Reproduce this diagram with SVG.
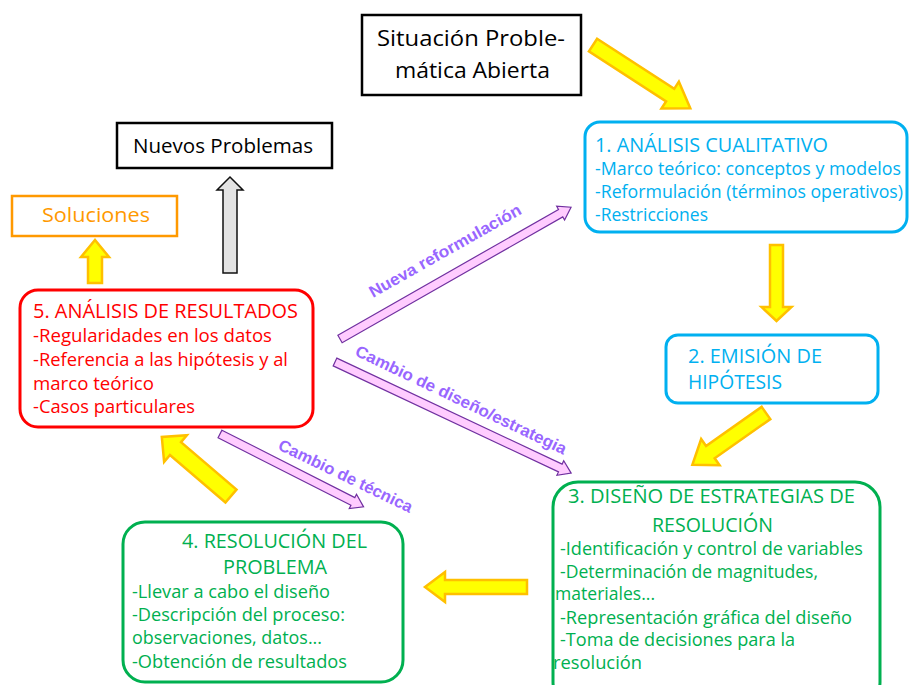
<svg xmlns="http://www.w3.org/2000/svg" width="910" height="685" viewBox="0 0 910 685">
<style>
text{font-family:"Open Sans","DejaVu Sans",sans-serif;font-size:18px}
.t{font-size:19.5px}
.sm{font-size:17.5px}
.blk{fill:#000}
.blue{fill:#00B0F0}
.red{fill:#FF0000}
.green{fill:#00B050}
.orange{fill:#FF9900}
.lbl{font-family:"Liberation Sans",Arial,sans-serif;font-weight:bold;font-size:16.5px;fill:#9966FF}
.ya{fill:#FFFF00;stroke:#FFC000;stroke-width:2.5;stroke-linejoin:miter}
.ga{fill:#E3E3E3;stroke:#111;stroke-width:1.5}
.pa{fill:#FFCCFF;stroke:#7030A0;stroke-width:1.2}
.box{fill:#fff;stroke-width:3}
</style>
<rect width="910" height="685" fill="#fff"/>
<g id="connectors">
<polygon class="ya" transform="translate(593,45) rotate(33)" points="0,-7.5 92,-7.5 92,-16 116,0 92,16 92,7.5 0,7.5"/>
<polygon class="ya" transform="translate(776.5,245) rotate(90)" points="0,-6.5 62,-6.5 62,-15 76,0 62,15 62,6.5 0,6.5"/>
<polygon class="ya" transform="translate(766,413) rotate(144.9)" points="0,-7.5 68,-7.5 68,-16 90,0 68,16 68,7.5 0,7.5"/>
<polygon class="ya" transform="translate(527,587) rotate(180)" points="0,-7 82,-7 82,-15 102,0 82,15 82,7 0,7"/>
<polygon class="ya" transform="translate(231,496) rotate(-139.5)" points="0,-8.5 73,-8.5 73,-17.5 91,0 73,17.5 73,8.5 0,8.5"/>
<polygon class="ya" transform="translate(95,283) rotate(-90)" points="0,-7 26,-7 26,-14 43,0 26,14 26,7 0,7"/>
<polygon class="ga" transform="translate(230,273) rotate(-90)" points="0,-7 83,-7 83,-13 96,0 83,13 83,7 0,7"/>
<polygon class="pa" transform="translate(340,339) rotate(-29.7)" points="0,-4.3 254,-4.3 254,-8 266,0 254,8 254,4.3 0,4.3"/>
<polygon class="pa" transform="translate(335,362) rotate(25.2)" points="0,-4.3 249,-4.3 249,-8 261,0 249,8 249,4.3 0,4.3"/>
<polygon class="pa" transform="translate(220,434) rotate(26.9)" points="0,-4.3 149,-4.3 149,-8 161,0 149,8 149,4.3 0,4.3"/>
<text class="lbl" transform="translate(373,298) rotate(-29.5)" textLength="172" lengthAdjust="spacingAndGlyphs">Nueva reformulación</text>
<text class="lbl" transform="translate(354,355) rotate(25.5)" textLength="232" lengthAdjust="spacingAndGlyphs">Cambio de diseño/estrategia</text>
<text class="lbl" transform="translate(277,449) rotate(25.8)" textLength="147" lengthAdjust="spacingAndGlyphs">Cambio de técnica</text>
</g>
<g id="situacion">
<rect x="362" y="15" width="219" height="80" fill="#fff" stroke="#000" stroke-width="2.5"/>
<text class="blk" x="377" y="46" style="font-size:22px" textLength="188" lengthAdjust="spacingAndGlyphs">Situación Proble-</text>
<text class="blk" x="395" y="78" style="font-size:22px" textLength="155" lengthAdjust="spacingAndGlyphs">mática Abierta</text>
</g>
<g id="nuevos">
<rect x="117" y="123" width="215" height="45" fill="#fff" stroke="#000" stroke-width="2.5"/>
<text class="blk" x="133" y="153" style="font-size:20px" textLength="180" lengthAdjust="spacingAndGlyphs">Nuevos Problemas</text>
</g>
<g id="soluciones">
<rect x="12" y="196" width="165" height="40" fill="#fff" stroke="#FF9900" stroke-width="2.5"/>
<text class="orange" x="42" y="222" style="font-size:20px" textLength="108" lengthAdjust="spacingAndGlyphs">Soluciones</text>
</g>
<g id="analisis-cualitativo">
<rect class="box" x="585" y="122" width="322" height="110" rx="15" stroke="#00B0F0"/>
<text class="blue t" x="595" y="152" textLength="233" lengthAdjust="spacingAndGlyphs">1. ANÁLISIS CUALITATIVO</text>
<text class="blue" x="595" y="175" textLength="306" lengthAdjust="spacingAndGlyphs">-Marco teórico: conceptos y modelos</text>
<text class="blue" x="595" y="198" textLength="308" lengthAdjust="spacingAndGlyphs">-Reformulación (términos operativos)</text>
<text class="blue" x="595" y="221" textLength="113" lengthAdjust="spacingAndGlyphs">-Restricciones</text>
</g>
<g id="emision-hipotesis">
<rect class="box" x="666" y="335" width="212" height="68" rx="12" stroke="#00B0F0"/>
<text class="blue t" x="688" y="363" textLength="134" lengthAdjust="spacingAndGlyphs">2. EMISIÓN DE</text>
<text class="blue t" x="688" y="389" textLength="94" lengthAdjust="spacingAndGlyphs">HIPÓTESIS</text>
</g>
<g id="diseno-estrategias">
<rect class="box" x="553" y="482" width="327" height="225" rx="25" stroke="#00B050"/>
<text class="green t" x="568" y="503" textLength="287" lengthAdjust="spacingAndGlyphs">3. DISEÑO DE ESTRATEGIAS DE</text>
<text class="green t" x="652" y="532" textLength="121" lengthAdjust="spacingAndGlyphs">RESOLUCIÓN</text>
<text class="green sm" x="560" y="555" textLength="303" lengthAdjust="spacingAndGlyphs">-Identificación y control de variables</text>
<text class="green sm" x="560" y="578" textLength="258" lengthAdjust="spacingAndGlyphs">-Determinación de magnitudes,</text>
<text class="green sm" x="555" y="600" textLength="100" lengthAdjust="spacingAndGlyphs">materiales...</text>
<text class="green sm" x="560" y="624" textLength="292" lengthAdjust="spacingAndGlyphs">-Representación gráfica del diseño</text>
<text class="green sm" x="560" y="646" textLength="235" lengthAdjust="spacingAndGlyphs">-Toma de decisiones para la</text>
<text class="green sm" x="553" y="669" textLength="89" lengthAdjust="spacingAndGlyphs">resolución</text>
</g>
<g id="resolucion-problema">
<rect class="box" x="123" y="522" width="280" height="160" rx="22" stroke="#00B050"/>
<text class="green t" x="182" y="548" textLength="185" lengthAdjust="spacingAndGlyphs">4. RESOLUCIÓN DEL</text>
<text class="green t" x="223" y="574" textLength="104" lengthAdjust="spacingAndGlyphs">PROBLEMA</text>
<text class="green" x="132" y="598" textLength="198" lengthAdjust="spacingAndGlyphs">-Llevar a cabo el diseño</text>
<text class="green" x="132" y="621" textLength="213" lengthAdjust="spacingAndGlyphs">-Descripción del proceso:</text>
<text class="green" x="132" y="644" textLength="190" lengthAdjust="spacingAndGlyphs">observaciones, datos...</text>
<text class="green" x="132" y="668" textLength="215" lengthAdjust="spacingAndGlyphs">-Obtención de resultados</text>
</g>
<g id="analisis-resultados">
<rect class="box" x="20" y="290" width="293" height="137" rx="18" stroke="#FF0000"/>
<text class="red t" x="33" y="318" textLength="265" lengthAdjust="spacingAndGlyphs">5. ANÁLISIS DE RESULTADOS</text>
<text class="red" x="33" y="342" textLength="239" lengthAdjust="spacingAndGlyphs">-Regularidades en los datos</text>
<text class="red" x="33" y="366" textLength="255" lengthAdjust="spacingAndGlyphs">-Referencia a las hipótesis y al</text>
<text class="red" x="33" y="390" textLength="121" lengthAdjust="spacingAndGlyphs">marco teórico</text>
<text class="red" x="33" y="413" textLength="162" lengthAdjust="spacingAndGlyphs">-Casos particulares</text>
</g>
</svg>
